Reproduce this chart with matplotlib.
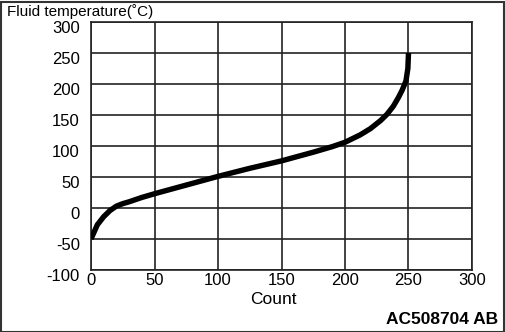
import matplotlib
matplotlib.use("Agg")
import matplotlib.pyplot as plt
from matplotlib.patches import Rectangle
import matplotlib.transforms as mtransforms

plt.rcParams['font.family'] = ['Liberation Sans', 'DejaVu Sans']
plt.rcParams['axes.unicode_minus'] = False

count = [0, 5, 10, 15, 20, 25, 30, 40, 50, 75, 100, 125, 150, 175, 190, 200,
         212, 220, 228, 233, 238, 242, 245, 248, 249.5, 250]
temp = [-50, -27, -14, -4, 3, 7, 10, 17, 23, 37, 51, 64, 76, 90, 99, 106,
        118, 128, 141, 151, 164, 178, 190, 205, 225, 250]

xticks = [0, 50, 100, 150, 200, 250, 300]
yticks = [-100, -50, 0, 50, 100, 150, 200, 250, 300]

fig = plt.figure(figsize=(5.05, 3.32), dpi=100)
ax = fig.add_axes([91/505, 1 - 270/332, (472-91)/505, (270-22)/332])

ax.plot(count, temp, color='black', lw=3.9, solid_capstyle='butt', zorder=3)

ax.set_xlim(0, 300)
ax.set_ylim(-100, 300)
ax.set_xticks(xticks)
ax.set_yticks(yticks)
ax.grid(True, color='#222222', lw=1.2)
ax.set_axisbelow(True)
for s in ax.spines.values():
    s.set_color('#222222')
    s.set_linewidth(1.2)
ax.tick_params(length=0, labelsize=12, labelcolor='black')
ax.tick_params(axis='y', pad=8)
ax.tick_params(axis='x', pad=2)
for lab in ax.get_yticklabels():
    lab.set_va('top')
    lab.set_transform(lab.get_transform() + mtransforms.ScaledTranslation(0, 1/100, fig.dpi_scale_trans))

fig.text(273/505, 1 - 299/332, 'Count', ha='center', va='center', fontsize=12.5)
fig.text(7/505, 1 - 12/332, 'Fluid temperature(\u02daC)', ha='left', va='center', fontsize=11)
fig.text(498/505, 1 - 320/332, 'AC508704 AB', ha='right', va='center', fontsize=12.5, fontweight='bold')

fig.patches.append(Rectangle((0.5/505, 0.5/332), 503/505, 330/332, transform=fig.transFigure,
                             fill=False, edgecolor='#333333', lw=1.5))

fig.savefig('out.png', dpi=100)
